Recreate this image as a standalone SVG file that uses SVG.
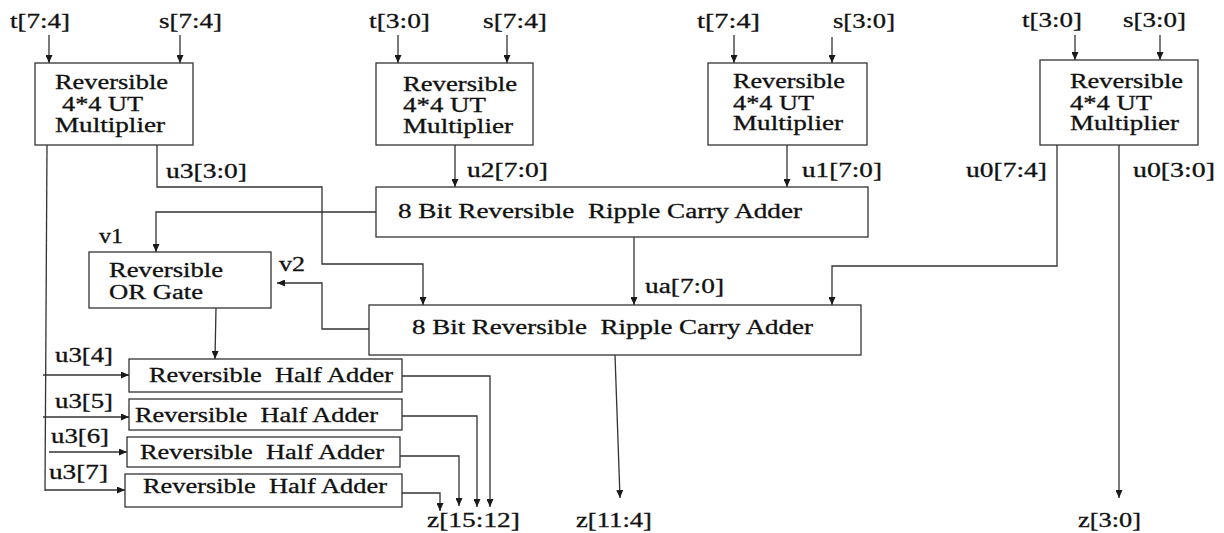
<svg xmlns="http://www.w3.org/2000/svg" width="1224" height="533" viewBox="0 0 1224 533" font-family="'Liberation Serif', 'Times New Roman', 'DejaVu Serif', serif">
<style>
text{font-family:'Liberation Serif','Times New Roman','DejaVu Serif',serif;font-size:20px;fill:#111;stroke:#111;stroke-width:0.3;white-space:pre}
.box{fill:#fff;stroke:#333;stroke-width:1.3}
.w{fill:none;stroke:#333;stroke-width:1.3}
.a{marker-end:url(#ah)}
</style>
<defs>
<marker id="ah" viewBox="0 0 10 10" refX="10" refY="5" markerWidth="8" markerHeight="7" markerUnits="userSpaceOnUse" orient="auto" preserveAspectRatio="none">
<path d="M0,0 L10,5 L0,10 z" fill="#1a1a1a"/>
</marker>
</defs>
<rect width="1224" height="533" fill="#fff"/>

<g id="connectors">
<line class="w a" x1="49" y1="35" x2="49" y2="63"/>
<line class="w a" x1="180" y1="35" x2="180" y2="63"/>
<line class="w a" x1="398" y1="35" x2="398" y2="63"/>
<line class="w a" x1="507" y1="35" x2="507" y2="63"/>
<line class="w a" x1="734" y1="35" x2="734" y2="63"/>
<line class="w a" x1="832" y1="37" x2="832" y2="63"/>
<line class="w a" x1="1075" y1="35" x2="1075" y2="60"/>
<line class="w a" x1="1160" y1="35" x2="1160" y2="60"/>
<polyline class="w a" points="157,145 157,187 322,187 322,264 423,264 423,305"/>
<line class="w a" x1="455" y1="145" x2="455" y2="187"/>
<line class="w a" x1="787" y1="145" x2="787" y2="187"/>
<polyline class="w a" points="376,212 156,212 156,252"/>
<line class="w a" x1="634" y1="237" x2="634" y2="305"/>
<polyline class="w a" points="1057,145 1057,266 832,266 832,305"/>
<polyline class="w a" points="369,329 322,329 322,283 277,283"/>
<line class="w a" x1="216" y1="308" x2="215" y2="359"/>
<line class="w" x1="47" y1="145" x2="45" y2="491"/>
<line class="w a" x1="43" y1="375" x2="129" y2="375"/>
<line class="w a" x1="43" y1="417" x2="129" y2="417"/>
<line class="w a" x1="49" y1="452" x2="127" y2="452"/>
<line class="w a" x1="45" y1="490" x2="125" y2="490"/>
<polyline class="w a" points="402,376 490,376 490,507"/>
<polyline class="w a" points="402,416 477,416 477,507"/>
<polyline class="w a" points="400,456 459,456 459,506"/>
<polyline class="w a" points="402,493 440,493 440,511"/>
<line class="w a" x1="615" y1="355" x2="620" y2="498"/>
<line class="w a" x1="1119" y1="145" x2="1119" y2="498"/>
</g>

<g id="labels">
<text x="10" y="28" textLength="60" lengthAdjust="spacingAndGlyphs">t[7:4]</text>
<text x="159" y="28" textLength="63" lengthAdjust="spacingAndGlyphs">s[7:4]</text>
<text x="369" y="28" textLength="61" lengthAdjust="spacingAndGlyphs">t[3:0]</text>
<text x="483" y="28" textLength="64" lengthAdjust="spacingAndGlyphs">s[7:4]</text>
<text x="697" y="28" textLength="63" lengthAdjust="spacingAndGlyphs">t[7:4]</text>
<text x="833" y="28" textLength="62" lengthAdjust="spacingAndGlyphs">s[3:0]</text>
<text x="1022" y="27" textLength="60" lengthAdjust="spacingAndGlyphs">t[3:0]</text>
<text x="1123" y="27" textLength="63" lengthAdjust="spacingAndGlyphs">s[3:0]</text>
<text x="166" y="178" textLength="81" lengthAdjust="spacingAndGlyphs">u3[3:0]</text>
<text x="467" y="177" textLength="81" lengthAdjust="spacingAndGlyphs">u2[7:0]</text>
<text x="802" y="177" textLength="80" lengthAdjust="spacingAndGlyphs">u1[7:0]</text>
<text x="966" y="177" textLength="81" lengthAdjust="spacingAndGlyphs">u0[7:4]</text>
<text x="1133" y="177" textLength="82" lengthAdjust="spacingAndGlyphs">u0[3:0]</text>
<text x="645" y="293" textLength="79" lengthAdjust="spacingAndGlyphs">ua[7:0]</text>
<text x="99" y="243" textLength="24" lengthAdjust="spacingAndGlyphs">v1</text>
<text x="279" y="271" textLength="26" lengthAdjust="spacingAndGlyphs">v2</text>
<text x="55" y="362" textLength="58" lengthAdjust="spacingAndGlyphs">u3[4]</text>
<text x="55" y="408" textLength="58" lengthAdjust="spacingAndGlyphs">u3[5]</text>
<text x="51" y="443" textLength="58" lengthAdjust="spacingAndGlyphs">u3[6]</text>
<text x="49" y="479" textLength="59" lengthAdjust="spacingAndGlyphs">u3[7]</text>
<text x="427" y="527" textLength="93" lengthAdjust="spacingAndGlyphs">z[15:12]</text>
<text x="576" y="527" textLength="76" lengthAdjust="spacingAndGlyphs">z[11:4]</text>
<text x="1078" y="527" textLength="63" lengthAdjust="spacingAndGlyphs">z[3:0]</text>
</g>

<g id="mult3">
<rect class="box" x="35" y="63" width="158" height="82"/>
<text x="55" y="89" textLength="113" lengthAdjust="spacingAndGlyphs">Reversible</text>
<text x="62" y="111" textLength="81" lengthAdjust="spacingAndGlyphs">4*4 UT</text>
<text x="55" y="132" textLength="110" lengthAdjust="spacingAndGlyphs">Multiplier</text>
</g>
<g id="mult2">
<rect class="box" x="376" y="63" width="157" height="82"/>
<text x="403" y="91" textLength="114" lengthAdjust="spacingAndGlyphs">Reversible</text>
<text x="403" y="112" textLength="83" lengthAdjust="spacingAndGlyphs">4*4 UT</text>
<text x="403" y="133" textLength="110" lengthAdjust="spacingAndGlyphs">Multiplier</text>
</g>
<g id="mult1">
<rect class="box" x="708" y="63" width="159" height="82"/>
<text x="733" y="88" textLength="112" lengthAdjust="spacingAndGlyphs">Reversible</text>
<text x="733" y="110" textLength="81" lengthAdjust="spacingAndGlyphs">4*4 UT</text>
<text x="733" y="130" textLength="110" lengthAdjust="spacingAndGlyphs">Multiplier</text>
</g>
<g id="mult0">
<rect class="box" x="1040" y="60" width="158" height="85"/>
<text x="1070" y="88" textLength="113" lengthAdjust="spacingAndGlyphs">Reversible</text>
<text x="1070" y="110" textLength="82" lengthAdjust="spacingAndGlyphs">4*4 UT</text>
<text x="1070" y="130" textLength="109" lengthAdjust="spacingAndGlyphs">Multiplier</text>
</g>
<g id="rca1">
<rect class="box" x="376" y="187" width="492" height="50"/>
<text x="398" y="218" textLength="404" lengthAdjust="spacingAndGlyphs">8 Bit Reversible  Ripple Carry Adder</text>
</g>
<g id="rca2">
<rect class="box" x="369" y="305" width="492" height="50"/>
<text x="412" y="334" textLength="401" lengthAdjust="spacingAndGlyphs">8 Bit Reversible  Ripple Carry Adder</text>
</g>
<g id="orgate">
<rect class="box" x="89" y="252" width="182" height="56"/>
<text x="109" y="277" textLength="114" lengthAdjust="spacingAndGlyphs">Reversible</text>
<text x="109" y="299" textLength="94" lengthAdjust="spacingAndGlyphs">OR Gate</text>
</g>
<g id="ha4">
<rect class="box" x="129" y="359" width="273" height="33"/>
<text x="149" y="382" textLength="244" lengthAdjust="spacingAndGlyphs">Reversible  Half Adder</text>
</g>
<g id="ha5">
<rect class="box" x="129" y="399" width="273" height="31"/>
<text x="135" y="422" textLength="243" lengthAdjust="spacingAndGlyphs">Reversible  Half Adder</text>
</g>
<g id="ha6">
<rect class="box" x="127" y="437" width="273" height="30"/>
<text x="140" y="459" textLength="244" lengthAdjust="spacingAndGlyphs">Reversible  Half Adder</text>
</g>
<g id="ha7">
<rect class="box" x="125" y="474" width="277" height="33"/>
<text x="143" y="493" textLength="244" lengthAdjust="spacingAndGlyphs">Reversible  Half Adder</text>
</g>
</svg>
